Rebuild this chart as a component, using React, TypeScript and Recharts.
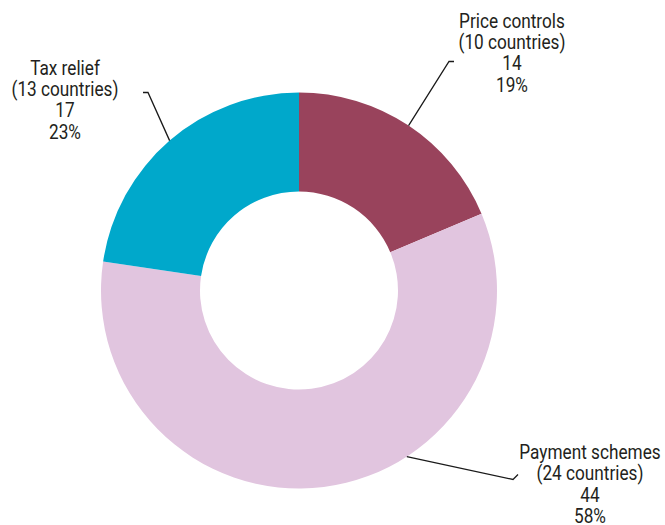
import { PieChart, Pie, Cell } from "recharts";

const names = ["Price controls", "Payment schemes", "Tax relief"];
const countries = [10, 24, 13];
const counts = [14, 44, 17];
const percents = [19, 58, 23];
const colors = ["#99435c", "#e1c5df", "#00a8cb"];

// leader line anchor angle + label block placement, relative to the pie centre
const labelLayout: Record<string, { angle: number; elbow: [number, number]; knee: [number, number]; text: [number, number] }> = {
  "Price controls": { angle: 56.4, elbow: [150, -229], knee: [155, -229], text: [213, -263] },
  "Payment schemes": { angle: -57, elbow: [214, 189], knee: [219, 184], text: [291, 168.5] },
  "Tax relief": { angle: 130.8, elbow: [-151, -198], knee: [-156, -198], text: [-234, -216] },
};

const data = names.map((name, i) => ({
  name,
  countries: countries[i],
  value: counts[i],
  pct: percents[i],
}));

const FONT = "Roboto, 'Noto Sans', sans-serif";

function renderLabel(props: any) {
  const { cx, cy, outerRadius, payload, index } = props;
  const item = data[index] ?? payload;
  const layout = labelLayout[item.name];
  const rad = (layout.angle * Math.PI) / 180;
  const sx = cx + outerRadius * Math.cos(rad);
  const sy = cy - outerRadius * Math.sin(rad);
  const lines = [item.name, `(${item.countries} countries)`, `${item.value}`, `${item.pct}%`];
  const tx = cx + layout.text[0];
  const ty = cy + layout.text[1];
  return (
    <g key={`lbl-${index}`}>
      <polyline
        points={`${sx},${sy} ${cx + layout.elbow[0]},${cy + layout.elbow[1]} ${cx + layout.knee[0]},${cy + layout.knee[1]}`}
        fill="none"
        stroke="#1a1a1a"
        strokeWidth={1.3}
      />
      {/* condensed look: squeeze Roboto horizontally */}
      <text
        transform={`translate(${tx},${ty}) scale(0.82,1)`}
        x={0}
        y={0}
        textAnchor="middle"
        fill="#231f20"
        fontSize={21}
        fontFamily={FONT}
      >
        {lines.map((l, i) => (
          <tspan key={i} x={0} dy={i === 0 ? 0 : 21.4}>
            {l}
          </tspan>
        ))}
      </text>
    </g>
  );
}

export default function App() {
  return (
    <div style={{ position: "absolute", left: 0, top: 0, background: "#fff" }}>
      <PieChart width={665} height={525} margin={{ top: 0, right: 0, bottom: 0, left: 0 }}>
        <Pie
          data={data}
          dataKey="value"
          nameKey="name"
          cx={299}
          cy={290.5}
          innerRadius={99}
          outerRadius={198}
          startAngle={90}
          endAngle={-270}
          stroke="none"
          label={renderLabel}
          labelLine={false}
          isAnimationActive={false}
        >
          {data.map((d, i) => (
            <Cell key={d.name} fill={colors[i]} />
          ))}
        </Pie>
      </PieChart>
    </div>
  );
}
